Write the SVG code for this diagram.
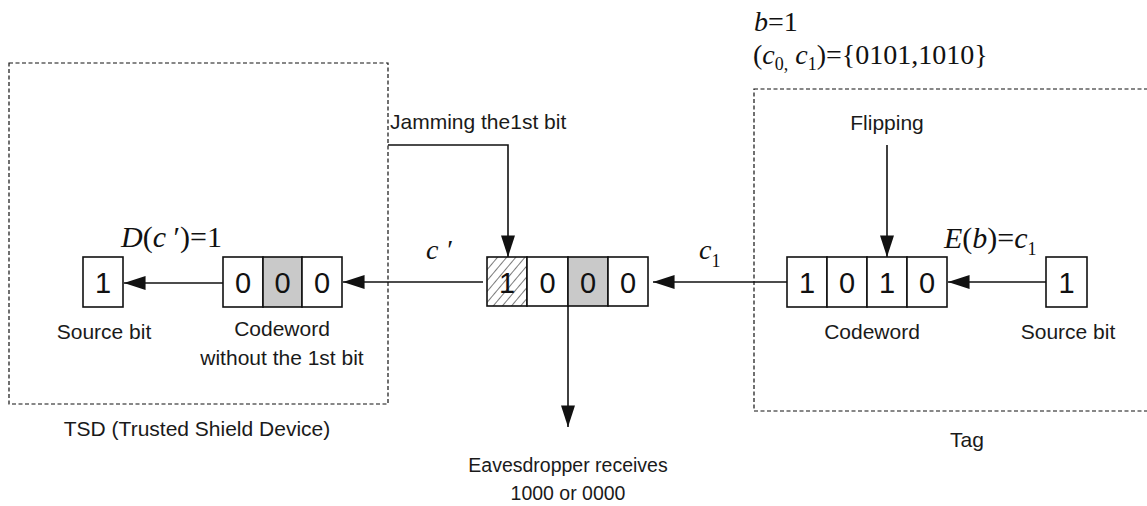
<svg xmlns="http://www.w3.org/2000/svg" width="1147" height="506" viewBox="0 0 1147 506">
<defs>
<style>
.lbl{font-family:"Liberation Sans",Arial,sans-serif;font-size:21px;fill:#1a1a1a}
.small{font-size:19.5px}
.mid{text-anchor:middle}
.dig{font-family:"Liberation Sans",Arial,sans-serif;font-size:29px;fill:#111;text-anchor:middle}
.math{font-family:"Liberation Serif","Times New Roman",serif;font-size:28px;fill:#111}
.big{font-size:30px}
.it{font-style:italic}
.sub{font-size:18px}
.cell{fill:#fff;stroke:#111;stroke-width:1.6}
.gray{fill:#c9c9c9;stroke:#111;stroke-width:1.6}
.dash{fill:none;stroke:#111;stroke-width:1.2;stroke-dasharray:4 2.5}
.wire{fill:none;stroke:#111;stroke-width:1.6}
</style>
<marker id="ah" markerUnits="userSpaceOnUse" markerWidth="22" markerHeight="14" viewBox="0 0 20 13" refX="20" refY="6.5" orient="auto">
<path d="M0,0 L20,6.5 L0,13 z" fill="#111"/>
</marker>
<pattern id="hatch" patternUnits="userSpaceOnUse" width="7" height="7" patternTransform="rotate(40)">
<rect width="7" height="7" fill="#fff"/>
<line x1="0" y1="0" x2="0" y2="7" stroke="#333" stroke-width="1.3"/>
</pattern>
</defs>

<g id="tsd-box">
<rect class="dash" x="9" y="63" width="379" height="341"/>
<text class="lbl mid" x="197" y="436">TSD (Trusted Shield Device)</text>
</g>

<g id="tag-box">
<rect class="dash" x="754" y="89" width="400" height="322"/>
<text class="lbl mid" x="967" y="447">Tag</text>
</g>

<g id="formula">
<text class="math" x="754" y="31" font-size="29"><tspan class="it">b</tspan>=1</text>
<text class="math" x="753" y="64">(<tspan class="it">c</tspan><tspan class="sub" dy="6">0,</tspan><tspan dy="-6"> </tspan><tspan class="it">c</tspan><tspan class="sub" dy="6">1</tspan><tspan dy="-6">)={0101,1010}</tspan></text>
</g>

<g id="tag-source">
<rect class="cell" x="1046" y="257" width="41" height="50"/>
<text class="dig" x="1066.5" y="293">1</text>
<text class="lbl mid" x="1068" y="339">Source bit</text>
</g>

<g id="tag-codeword">
<rect class="cell" x="787" y="257" width="40" height="50"/>
<rect class="cell" x="827" y="257" width="40" height="50"/>
<rect class="cell" x="867" y="257" width="40" height="50"/>
<rect class="cell" x="907" y="257" width="40" height="50"/>
<text class="dig" x="807" y="293">1</text>
<text class="dig" x="847" y="293">0</text>
<text class="dig" x="887" y="293">1</text>
<text class="dig" x="927" y="293">0</text>
<text class="lbl mid" x="872" y="339">Codeword</text>
</g>

<g id="flipping">
<text class="lbl mid" x="887" y="130">Flipping</text>
</g>

<g id="encode-label">
<text class="math big" x="944" y="248"><tspan class="it">E</tspan>(<tspan class="it">b</tspan>)=<tspan class="it">c</tspan><tspan class="sub" dy="7">1</tspan></text>
</g>

<g id="channel-codeword">
<rect x="487" y="257" width="40" height="49" fill="url(#hatch)" stroke="#111" stroke-width="1.6"/>
<rect class="cell" x="527" y="257" width="41" height="49"/>
<rect class="gray" x="568" y="257" width="40" height="49"/>
<rect class="cell" x="608" y="257" width="40" height="49"/>
<text class="dig" x="507" y="293">1</text>
<text class="dig" x="547.5" y="293">0</text>
<text class="dig" x="588" y="293">0</text>
<text class="dig" x="628" y="293">0</text>
</g>

<g id="jamming">
<text class="lbl" x="390" y="129">Jamming the1st bit</text>
</g>

<g id="eavesdropper">
<text class="lbl small mid" x="568" y="472">Eavesdropper receives</text>
<text class="lbl small mid" x="568" y="500">1000 or 0000</text>
</g>

<g id="tsd-codeword">
<rect class="cell" x="223" y="257" width="40" height="50"/>
<rect class="gray" x="263" y="257" width="39" height="50"/>
<rect class="cell" x="302" y="257" width="40" height="50"/>
<text class="dig" x="243" y="293">0</text>
<text class="dig" x="282.5" y="293">0</text>
<text class="dig" x="322" y="293">0</text>
<text class="lbl mid" x="282" y="336">Codeword</text>
<text class="lbl mid" x="282" y="365">without the 1st bit</text>
</g>

<g id="tsd-source">
<rect class="cell" x="83" y="257" width="40" height="50"/>
<text class="dig" x="103" y="293">1</text>
<text class="lbl mid" x="104" y="339">Source bit</text>
</g>

<g id="decode-label">
<text class="math big" x="121" y="247"><tspan class="it">D</tspan>(<tspan class="it">c</tspan> ′)=1</text>
</g>

<g id="channel-labels">
<text class="math it" x="426" y="259">c ′</text>
<text class="math it" x="699" y="259">c<tspan class="sub" dy="8" font-style="normal">1</tspan></text>
</g>

<g id="connectors">
<line class="wire" x1="1046" y1="282" x2="948" y2="282" marker-end="url(#ah)"/>
<line class="wire" x1="787" y1="282" x2="653" y2="282" marker-end="url(#ah)"/>
<line class="wire" x1="483" y1="282" x2="343" y2="282" marker-end="url(#ah)"/>
<line class="wire" x1="223" y1="283" x2="124" y2="283" marker-end="url(#ah)"/>
<line class="wire" x1="887" y1="145" x2="887" y2="257" marker-end="url(#ah)"/>
<polyline class="wire" points="388,145 508,145 508,257" marker-end="url(#ah)"/>
<line class="wire" x1="568" y1="306" x2="568" y2="427" marker-end="url(#ah)"/>
</g>
</svg>
